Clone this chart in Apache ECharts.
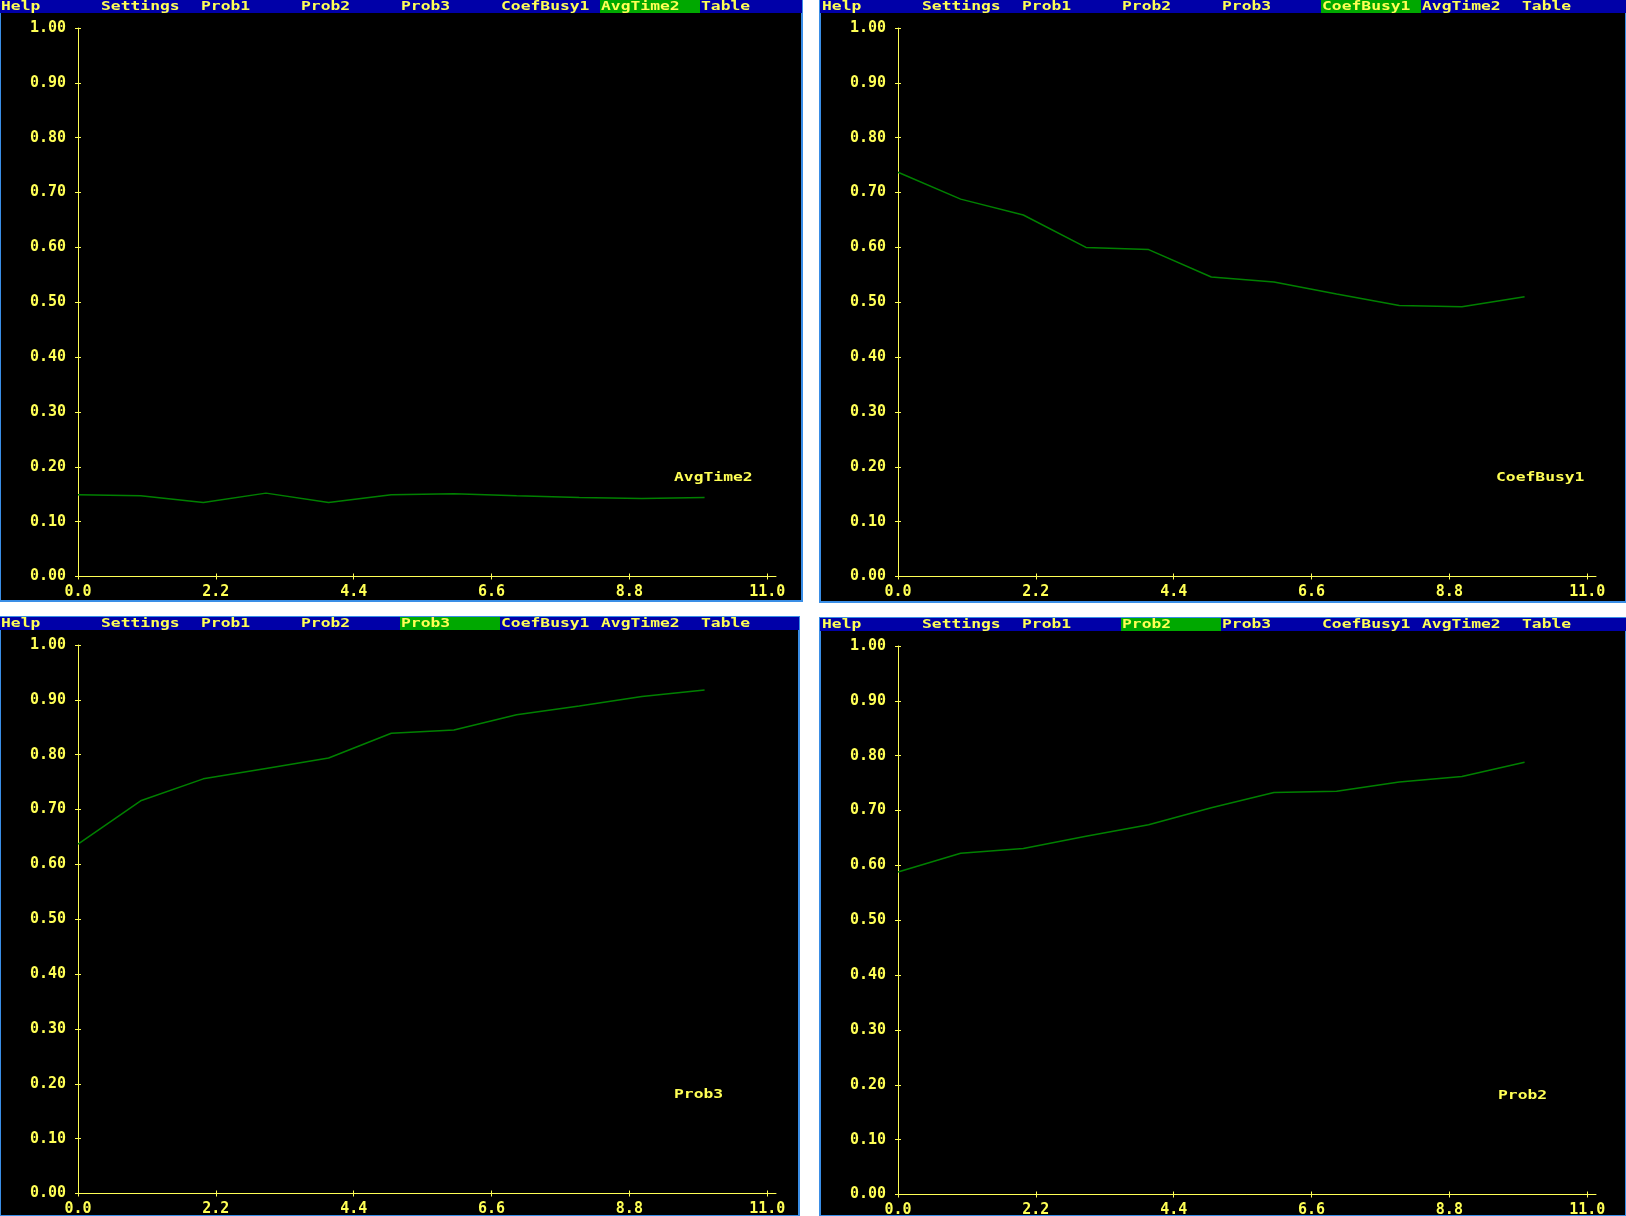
<!DOCTYPE html>
<html>
<head>
<meta charset="utf-8">
<title>Model runs</title>
<script src="https://cdn.jsdelivr.net/npm/echarts@6.0.0/dist/echarts.min.js"></script>
<style>
  html, body { margin: 0; padding: 0; background: #ffffff; }
  #chart { width: 1626px; height: 1216px; }
</style>
</head>
<body>
<div id="chart"></div>
<script>
  // step on the x axis
  const steps = [0, 1, 2, 3, 4, 5, 6, 7, 8, 9, 10];
  // series values
  const avgTime2 = [0.149, 0.147, 0.135, 0.152, 0.135, 0.149, 0.151, 0.147, 0.144, 0.142, 0.144];
  const coefBusy1 = [0.737, 0.688, 0.659, 0.600, 0.596, 0.546, 0.537, 0.515, 0.494, 0.492, 0.510];
  const prob3 = [0.637, 0.716, 0.756, 0.775, 0.794, 0.839, 0.845, 0.873, 0.889, 0.906, 0.918];
  const prob2 = [0.588, 0.622, 0.631, 0.653, 0.674, 0.705, 0.733, 0.735, 0.752, 0.762, 0.788];
  // tick labels
  const xTicks = [0, 2.2, 4.4, 6.6, 8.8, 11.0];
  const yTicks = [0, 0.1, 0.2, 0.3, 0.4, 0.5, 0.6, 0.7, 0.8, 0.9, 1.0];
  const menuItems = ['Help', 'Settings', 'Prob1', 'Prob2', 'Prob3', 'CoefBusy1', 'AvgTime2', 'Table'];

  const YELLOW = '#ffff55';
  const BLUE = '#0000a8';
  const GREEN = '#00a800';
  const LINE = '#008000';
  const BORDER = '#3a8ee6';
  const MONO = '"DejaVu Sans Mono", "Liberation Mono", monospace';

  // one screen per series; x/y is the screen's top-left corner
  const panels = [
    { name: 'AvgTime2', values: avgTime2, x: 0, y: 0, w: 802, h: 601, labelX: 674 },
    { name: 'CoefBusy1', values: coefBusy1, x: 820, y: 0, w: 806, h: 602, labelX: 676 },
    { name: 'Prob3', values: prob3, x: 0, y: 617, w: 799, h: 599, labelX: 674 },
    { name: 'Prob2', values: prob2, x: 820, y: 618, w: 806, h: 598, labelX: 678 }
  ];

  const chart = echarts.init(document.getElementById('chart'), null, { renderer: 'canvas' });

  const grids = [];
  const xAxes = [];
  const yAxes = [];
  const series = [];
  const graphics = [];

  const labelFont = { color: YELLOW, fontFamily: MONO, fontWeight: 'bold', fontSize: 15 };

  // DOS-like wide text: small bold mono stretched sideways
  const dosText = (text, x, y, z) => ({
    type: 'text',
    x: x,
    y: y,
    scaleX: 1.36,
    z: z,
    silent: true,
    style: {
      text: text,
      fill: YELLOW,
      fontFamily: MONO,
      fontWeight: 'bold',
      fontSize: 12,
      textAlign: 'left',
      textVerticalAlign: 'middle'
    }
  });

  panels.forEach((p, i) => {
    const menuLeft = p.x === 0 ? 0 : p.x + 1;

    // screen background, border, menu bar
    graphics.push({ type: 'rect', z: -10, silent: true,
      shape: { x: p.x, y: p.y, width: p.w, height: p.h }, style: { fill: '#000000' } });
    graphics.push({ type: 'rect', z: 49, silent: true,
      shape: { x: p.x, y: p.y, width: p.w, height: p.h },
      style: { fill: 'none', stroke: BORDER, lineWidth: 2 } });
    graphics.push({ type: 'rect', z: 50, silent: true,
      shape: { x: p.x, y: p.y, width: p.w, height: 13 }, style: { fill: BLUE } });
    const active = menuItems.indexOf(p.name);
    graphics.push({ type: 'rect', z: 51, silent: true,
      shape: { x: menuLeft + active * 100, y: p.y, width: 100, height: 13 }, style: { fill: GREEN } });
    menuItems.forEach((m, k) => {
      graphics.push(dosText(m, menuLeft + k * 100 + 1, p.y + 6.5, 52));
    });
    // series name inside the plot
    graphics.push(dosText(p.name, p.x + p.labelX, p.y + 478, 52));

    grids.push({
      left: p.x + 78, top: p.y + 28, width: 698, height: 548.5,
      show: false, containLabel: false, outerBoundsMode: 'none'
    });

    const xBase = { gridIndex: i, type: 'value', min: 0, max: 11.14, position: 'bottom',
      splitLine: { show: false } };
    xAxes.push(Object.assign({}, xBase, {
      axisLine: { show: true, onZero: false, lineStyle: { color: YELLOW, width: 1 } },
      axisTick: { show: true, length: 3, customValues: xTicks, lineStyle: { color: YELLOW, width: 1 } },
      axisLabel: Object.assign({ show: true, customValues: xTicks, margin: 8,
        showMinLabel: true, showMaxLabel: true,
        formatter: v => Number(v).toFixed(1) }, labelFont)
    }));
    xAxes.push(Object.assign({}, xBase, {
      axisLine: { show: false },
      axisTick: { show: true, inside: true, length: 3, customValues: xTicks, lineStyle: { color: YELLOW, width: 1 } },
      axisLabel: { show: false }
    }));

    const yBase = { gridIndex: i, type: 'value', min: 0, max: 1, position: 'left',
      splitLine: { show: false } };
    yAxes.push(Object.assign({}, yBase, {
      axisLine: { show: true, onZero: false, lineStyle: { color: YELLOW, width: 1 } },
      axisTick: { show: true, length: 3, customValues: yTicks, lineStyle: { color: YELLOW, width: 1 } },
      axisLabel: Object.assign({ show: true, customValues: yTicks, margin: 12,
        showMinLabel: true, showMaxLabel: true,
        formatter: v => Number(v).toFixed(2) }, labelFont)
    }));
    yAxes.push(Object.assign({}, yBase, {
      axisLine: { show: false },
      axisTick: { show: true, inside: true, length: 3, customValues: yTicks, lineStyle: { color: YELLOW, width: 1 } },
      axisLabel: { show: false }
    }));

    series.push({
      name: p.name,
      type: 'line',
      xAxisIndex: 2 * i,
      yAxisIndex: 2 * i,
      data: steps.map((s, k) => [s, p.values[k]]),
      showSymbol: false,
      symbol: 'none',
      silent: true,
      lineStyle: { color: LINE, width: 1.5 },
      z: 5
    });
  });

  chart.setOption({
    backgroundColor: '#ffffff',
    animation: false,
    tooltip: { show: false },
    legend: { show: false },
    grid: grids,
    xAxis: xAxes,
    yAxis: yAxes,
    series: series,
    graphic: { elements: graphics }
  });
</script>
</body>
</html>
